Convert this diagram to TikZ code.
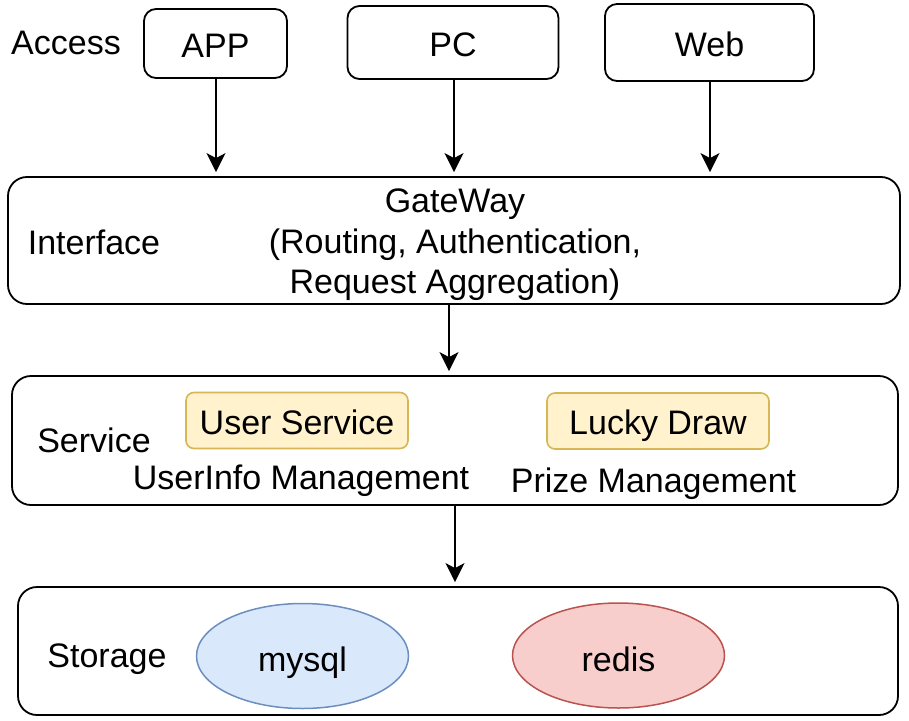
\documentclass[tikz,border=0pt]{standalone}
\usepackage{fontspec}
\setmainfont{Liberation Sans}
\usetikzlibrary{arrows.meta,shapes.geometric}
\definecolor{yfill}{HTML}{FFF2CC}
\definecolor{ydraw}{HTML}{D6B656}
\definecolor{bfill}{HTML}{DAE8FC}
\definecolor{bdraw}{HTML}{6C8EBF}
\definecolor{rfill}{HTML}{F8CECC}
\definecolor{rdraw}{HTML}{B85450}
\begin{document}
\begin{tikzpicture}[x=1pt,y=-1pt,
  every node/.style={font=\fontsize{34}{40.5}\selectfont, inner sep=0pt},
  lbl/.style={text height=27pt, text depth=0pt},
  client/.style={lbl, draw, line width=1.8pt, rounded corners=12pt},
  layer/.style={draw, line width=1.8pt, rounded corners=19pt},
  svc/.style={lbl, draw=ydraw, fill=yfill, line width=1.6pt, rounded corners=8pt, minimum width=222pt, minimum height=56pt},
  db/.style={text height=31pt, text depth=0pt, ellipse, line width=1.5pt, minimum width=212pt, minimum height=105pt},
  arr/.style={-{Stealth[length=19pt,width=19pt,inset=5pt]}, line width=1.8pt, shorten >=4pt}]
\useasboundingbox (0,0) rectangle (909,720);
% Access layer
\node[lbl] (access) at (66,40.5) {Access};
\node[client, minimum width=143pt, minimum height=69pt] (app) at (215.5,43.5) {APP};
\node[client, minimum width=211pt, minimum height=73pt] (pc) at (453,42.5) {PC};
\node[client, minimum width=209pt, minimum height=77pt] (web) at (709.5,42.5) {Web};
% Interface layer
\node[layer, minimum width=892pt, minimum height=127pt] (iface) at (454,240.5) {};
\node[lbl] (ifl) at (94,241) {Interface};
\node[align=center] (gw) at (455,245) {GateWay\\(Routing, Authentication,\\Request Aggregation)};
% Service layer
\node[layer, minimum width=886pt, minimum height=129pt] (svcl) at (455,440.5) {};
\node[lbl] (svl) at (94,438.5) {Service};
\node[svc] (us) at (297,420.5) {User Service};
\node[svc] (ld) at (658,421) {Lucky Draw};
\node[lbl] (uim) at (301,475.5) {UserInfo Management};
\node[lbl] (pm) at (653.5,478.5) {Prize Management};
% Storage layer
\node[layer, minimum width=880pt, minimum height=128pt] (stor) at (458,651) {};
\node[lbl] (stl) at (107,653.5) {Storage};
\node[db, draw=bdraw, fill=bfill] (mysql) at (302.5,656) {mysql};
\node[db, draw=rdraw, fill=rfill] (redis) at (618.5,655.5) {redis};
% connectors
\coordinate (xa) at (216,0);
\coordinate (xp) at (454,0);
\coordinate (xw) at (710,0);
\draw[arr] (app.south -| xa) -- (iface.north -| xa);
\draw[arr] (pc.south -| xp) -- (iface.north -| xp);
\draw[arr] (web.south -| xw) -- (iface.north -| xw);
\coordinate (xs) at (449,0);
\draw[arr] (iface.south -| xs) -- (svcl.north -| xs);
\coordinate (xt) at (455,0);
\draw[arr] (svcl.south -| xt) -- (stor.north -| xt);
\end{tikzpicture}
\end{document}
